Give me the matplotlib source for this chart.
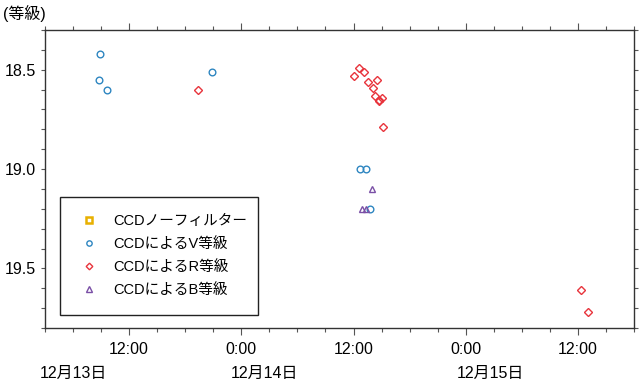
import matplotlib
matplotlib.use("Agg")
import matplotlib.pyplot as plt
import matplotlib.dates as mdates
from matplotlib.ticker import MultipleLocator, FixedLocator
from datetime import datetime

plt.rcParams['font.family'] = ['Liberation Sans', 'Noto Sans CJK JP', 'DejaVu Sans']

# ---- data ----
v_times = ["12-13 08:52", "12-13 08:47", "12-13 09:36", "12-13 20:50",
           "12-14 12:40", "12-14 13:19", "12-14 13:48"]
v_mags = [18.42, 18.55, 18.60, 18.51, 19.00, 19.00, 19.20]

r_times = ["12-13 19:24", "12-14 12:01", "12-14 12:36", "12-14 13:06", "12-14 13:36",
           "12-14 14:05", "12-14 14:30", "12-14 14:19", "12-14 14:43", "12-14 14:46",
           "12-14 15:00", "12-14 15:09", "12-15 12:17", "12-15 13:04"]
r_mags = [18.60, 18.53, 18.49, 18.51, 18.56, 18.59, 18.55, 18.63, 18.65, 18.655,
          18.64, 18.79, 19.61, 19.72]

b_times = ["12-14 12:53", "12-14 13:19", "12-14 13:56"]
b_mags = [19.20, 19.20, 19.10]

nf_times = []
nf_mags = []

labels = ["CCDノーフィルター", "CCDによるV等級", "CCDによるR等級", "CCDによるB等級"]
x_tick_labels = ["12:00", "0:00", "12:00", "0:00", "12:00"]
x_tick_times = ["12-13 12:00", "12-14 00:00", "12-14 12:00", "12-15 00:00", "12-15 12:00"]
date_labels = ["12月13日", "12月14日", "12月15日"]
date_label_times = ["12-13 06:00", "12-14 02:30", "12-15 02:40"]
y_ticks = [18.5, 19.0, 19.5]
y_label = "(等級)"


def parse(ts):
    return [datetime.strptime("2000-" + t, "%Y-%m-%d %H:%M") for t in ts]


fig = plt.figure(figsize=(6.4, 3.86), dpi=100)
ax = fig.add_axes([45 / 640, 1 - 328 / 386, 589 / 640, 298 / 386])

ms = 4.8
mew = 1.0
ax.plot(parse(nf_times), nf_mags, linestyle='none', marker='s', ms=ms, mew=1.8,
        mfc='none', mec='#E8B000', label=labels[0])
ax.plot(parse(v_times), v_mags, linestyle='none', marker='o', ms=ms, mew=mew,
        mfc='none', mec='#2E86C1', label=labels[1])
ax.plot(parse(r_times), r_mags, linestyle='none', marker='D', ms=ms - 0.6, mew=mew,
        mfc='none', mec='#E8343C', label=labels[2])
ax.plot(parse(b_times), b_mags, linestyle='none', marker='^', ms=ms, mew=mew,
        mfc='none', mec='#7A4FA6', label=labels[3])

x0, x1 = parse(["12-13 03:00", "12-15 18:00"])
ax.set_xlim(x0, x1)
ax.set_ylim(19.8, 18.3)

# x ticks
ax.xaxis.set_major_locator(FixedLocator(mdates.date2num(parse(x_tick_times))))
ax.set_xticklabels(x_tick_labels)
ax.xaxis.set_minor_locator(mdates.HourLocator(byhour=range(0, 24, 3)))
ax.yaxis.set_major_locator(FixedLocator(y_ticks))
ax.set_yticklabels([f"{v:.1f}" for v in y_ticks])
ax.yaxis.set_minor_locator(MultipleLocator(0.1))

ax.tick_params(axis='both', which='both', direction='out', top=True, right=True,
               color='#555555', width=0.8)
ax.tick_params(axis='x', which='major', length=5, labelsize=11.5, pad=5)
ax.tick_params(axis='x', which='minor', length=3)
ax.tick_params(axis='y', which='major', length=3, labelsize=11.5, pad=3.5)
ax.tick_params(axis='y', which='minor', length=3)
ax.tick_params(which='both', labeltop=False, labelright=False)
for s in ax.spines.values():
    s.set_color('#333333')
    s.set_linewidth(1.0)

# date labels
for t, lab in zip(parse(date_label_times), date_labels):
    ax.text(mdates.date2num(t), -0.152, lab, transform=ax.get_xaxis_transform(),
            ha='center', va='center', fontsize=11.5, clip_on=False)

fig.text(3 / 640, 1 - 13 / 386, y_label, ha='left', va='center', fontsize=11.5)

leg = ax.legend(loc='upper left', bbox_to_anchor=(0.0255, 0.047, 0.336, 0.3936),
                mode='expand', borderaxespad=0, fontsize=10.5, frameon=True,
                fancybox=False, edgecolor='#222222', framealpha=1, markerscale=0.8,
                borderpad=1.2, labelspacing=0.62, handlelength=1.6, handletextpad=0.85)
leg.get_frame().set_linewidth(1.0)

fig.savefig("out.png", dpi=100)
